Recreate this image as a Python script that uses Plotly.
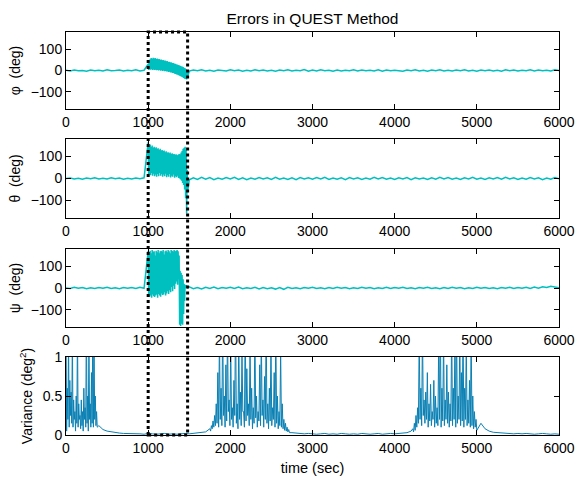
import numpy as np
import plotly.graph_objects as go
from plotly.subplots import make_subplots

# ---------------- data ----------------
# quiet segments (every 50 s)
t_pre = np.arange(0, 1000, 50)          # 0..950
t_post = np.arange(1500, 6001, 50)      # 1500..6000

phi_pre = [1, -2, 2, -1, 0, -3, 2, -1, 1, -2, 3, -1, 0, 2, -2, 1, -1, 3, -2, 1]
phi_post = [-3, 2, -1, 3, -2, 1, -3, 2, 0, -2, 3, -1, 2, -3, 1, -2, 3, -1, 2, -2,
            1, -3, 2, -1, 3, -2, 1, -1, 4, -3, 2, -2, 3, -1, 1, -3, 2, -2, 1, -1,
            3, -2, 2, -1, 1, -2, 3, -3, 2, -1, 1, -2, -4, 2, -1, 3, -2, 1, -3, 2,
            -1, 3, -2, 1, -2, 2, -1, 3, -2, 1, -3, 2, -1, 2, -2, 1, -3, 3, -1, 2,
            -2, 1, -1, 3, -2, 2, -1, 1, -2, 3, 0]
phi_burst_hi = [30, 45, 52, 58, 55, 60, 56, 58, 54, 56, 52, 54, 50, 51, 48, 49, 46, 46, 43, 44,
                41, 41, 38, 38, 35, 35, 32, 31, 29, 28, 26, 24, 22, 20, 18, 16, 13, 10, 6, 2]
phi_burst_lo = [2, 5, 4, 6, 3, 5, 2, 4, 1, 3, 0, 2, -1, 1, -2, 0, -3, -2, -5, -4,
                -7, -6, -9, -9, -12, -12, -15, -16, -18, -20, -22, -24, -27, -29, -32, -35, -38, -40, -42, -30]

theta_pre = [0, 2, -2, 1, -3, 2, -1, 3, -2, 1, -2, 3, -1, 2, -3, 1, -2, 2, -1, 3]
theta_post = [-6, 3, -4, 5, -3, 4, -5, 2, -3, 4, -2, 5, -4, 3, -5, 2, -3, 4, -2, 3,
              -4, 5, -3, 2, -4, 3, -5, 4, -2, 3, -3, 4, -2, 5, -4, 2, -3, 3, -5, 4,
              -2, 3, -4, 2, -3, 5, -2, 4, -3, 2, -4, 3, -2, 4, -5, 3, -2, 2, -4, 3,
              -3, 5, -2, 4, -3, 2, -4, 3, -2, 5, -3, 2, -4, 3, -2, 4, -3, 5, -2, 3,
              -4, 2, -3, 4, -2, 3, -5, 2, -3, 4, -1]
theta_burst_hi = [165, 150, 155, 145, 150, 140, 145, 138, 142, 135, 138, 130, 135, 128, 130, 125, 128, 120, 124, 118,
                  120, 115, 118, 112, 115, 110, 112, 108, 110, 106, 108, 112, 110, 118, 125, 135, 140, 145, 130, 40]
theta_burst_lo = [10, 20, 15, 25, 12, 22, 10, 18, 8, 20, 10, 25, 12, 20, 8, 18, 10, 22, 6, 15,
                  8, 20, 5, 12, 8, 18, 4, 10, 6, 12, 2, 0, -5, -10, -20, -30, -50, -90, -160, -60]

psi_pre = [0, -2, 3, -1, 2, -3, 1, -2, 2, -1, 3, -2, 1, -3, 2, -1, 2, -2, 3, -1]
psi_post = [5, -3, 2, -4, 3, -2, 4, -3, 2, -1, 3, -2, 4, -3, 1, -2, 3, -4, 2, -3,
            1, -5, 2, -6, 3, -2, 1, -3, 2, -1, 3, -2, 1, -3, 2, -2, 3, -1, 2, -3,
            1, -2, 3, -1, 2, -3, 1, -2, 3, -2, 2, -1, 3, -2, 1, -3, 2, -1, 3, -2,
            1, -3, 2, -2, 3, -1, 2, -3, 1, -2, 3, -1, 2, -2, 1, -3, 2, -1, 3, -2,
            2, -1, 3, -2, 4, -1, 6, 2, 8, 3, 1]
psi_burst_hi = [170, 165, 172, 160, 175, 168, 170, 150, 172, 165, 175, 160, 170, 172, 168, 175, 155, 170, 173, 165,
                175, 170, 160, 175, 172, 168, 175, 170, 172, 175, 170, 150, 80, 70, 60, 40, 20, 15, 10, 5]
psi_burst_lo = [-30, -40, -35, -45, -30, -38, -42, -35, -30, -45, -28, -35, -40, -25, -32, -30, -20, -35, -25, -15,
                -28, -10, -20, 5, -15, 10, -5, 20, 30, 15, 40, -170, -175, -165, -170, -120, -60, 0, 10, 0]

burst_start, burst_end = 1000, 1480

# variance
var_b1_hi = [1.5, 0.6, 1.2, 0.7, 0.55, 1.3, 0.45, 0.3, 0.5, 1.4, 0.4, 0.25, 0.45, 0.3, 0.6, 0.35, 1.6, 0.5, 1.2, 0.4,
             0.8, 1.5, 1.3, 0.5, 0.3]
var_b1_lo = [0.05, 0.2, 0.1, 0.25, 0.15, 0.1, 0.2, 0.05, 0.15, 0.1, 0.2, 0.08, 0.12, 0.05, 0.2, 0.1, 0.15, 0.05, 0.2, 0.1,
             0.15, 0.1, 0.2, 0.12, 0.1]
t_var_q1 = np.arange(400, 1750, 50)
var_q1 = [0.12, 0.07, 0.05, 0.04, 0.03, 0.025, 0.02, 0.02, 0.015, 0.02, 0.015, 0.01, 0.02, 0.015, 0.01, 0.015, 0.02,
          0.01, 0.015, 0.01, 0.015, 0.02, 0.015, 0.02, 0.025, 0.03, 0.04]
var_b2_hi = [0.08, 0.12, 0.18, 0.25, 0.4, 0.8, 1.3, 0.6, 1.5, 0.5, 0.9, 1.4, 0.45, 1.2, 0.35, 0.7, 1.6, 0.4, 1.3, 0.55,
             1.1, 0.3, 1.5, 0.85, 0.4, 1.2, 0.6, 0.35, 1.4, 0.5, 0.3, 0.9, 1.3, 0.45, 0.75, 1.5, 0.4, 0.6, 1.2, 0.35,
             0.8, 1.4, 0.5, 0.3, 1.1, 0.4, 0.2, 0.15, 0.1, 0.07]
var_b2_lo = [0.05, 0.08, 0.1, 0.12, 0.15, 0.1, 0.2, 0.12, 0.25, 0.1, 0.18, 0.3, 0.12, 0.2, 0.1, 0.25, 0.15, 0.08, 0.2, 0.12,
             0.3, 0.1, 0.18, 0.25, 0.12, 0.2, 0.08, 0.15, 0.22, 0.1, 0.18, 0.12, 0.25, 0.1, 0.2, 0.15, 0.08, 0.18, 0.12, 0.2,
             0.1, 0.15, 0.08, 0.12, 0.1, 0.08, 0.06, 0.05, 0.04, 0.03]
t_var_q2 = np.arange(2750, 4201, 50)
var_q2 = [0.03, 0.025, 0.02, 0.015, 0.02, 0.015, 0.01, 0.015, 0.02, 0.01, 0.015, 0.01, 0.02, 0.015, 0.01, 0.015, 0.01,
          0.02, 0.015, 0.01, 0.015, 0.02, 0.01, 0.015, 0.02, 0.015, 0.02, 0.025, 0.03, 0.05]
var_b3_hi = [0.08, 0.15, 0.25, 0.35, 1.3, 0.6, 1.4, 0.45, 0.55, 0.8, 0.4, 0.65, 0.3, 0.7, 0.5, 0.35, 1.2, 1.5, 0.6, 1.3,
             0.45, 0.9, 0.55, 0.4, 1.4, 0.6, 1.2, 1.5, 0.5, 1.3, 0.8, 1.4, 0.6, 1.2, 0.45, 0.7, 1.3, 0.5, 0.3, 0.2]
var_b3_lo = [0.04, 0.06, 0.1, 0.15, 0.2, 0.12, 0.25, 0.15, 0.2, 0.1, 0.18, 0.12, 0.2, 0.1, 0.15, 0.12, 0.2, 0.1, 0.18, 0.12,
             0.2, 0.15, 0.1, 0.18, 0.12, 0.2, 0.1, 0.15, 0.2, 0.12, 0.18, 0.1, 0.2, 0.12, 0.15, 0.1, 0.12, 0.08, 0.1, 0.06]
t_var_q3 = np.arange(5050, 6001, 50)
var_q3 = [0.15, 0.08, 0.05, 0.035, 0.03, 0.025, 0.02, 0.02, 0.015, 0.02, 0.015, 0.02, 0.015, 0.01, 0.015, 0.02, 0.015,
          0.01, 0.015, 0.01]

x_ticks = [0, 1000, 2000, 3000, 4000, 5000, 6000]
angle_ticks = [-100, 0, 100]
var_ticks = [0, 0.5, 1]
y_titles = ["\u03c6  (deg)", "\u03b8  (deg)", "\u03c8  (deg)", "Variance (deg<sup>2</sup>)"]
title = "Errors in QUEST Method"
x_title = "time (sec)"


def interleave(hi, lo, t0, t1):
    n = len(hi)
    t = np.linspace(t0, t1, 2 * n)
    v = np.empty(2 * n)
    v[0::2] = hi
    v[1::2] = lo
    return t, v


def angle_series(pre, hi, lo, post):
    tb, vb = interleave(hi, lo, burst_start, burst_end)
    t = np.concatenate([t_pre, tb, t_post])
    v = np.concatenate([pre, vb, post])
    return t, v


series = [
    angle_series(phi_pre, phi_burst_hi, phi_burst_lo, phi_post),
    angle_series(theta_pre, theta_burst_hi, theta_burst_lo, theta_post),
    angle_series(psi_pre, psi_burst_hi, psi_burst_lo, psi_post),
]

tb1, vb1 = interleave(var_b1_hi, var_b1_lo, 0, 380)
tb2, vb2 = interleave(var_b2_hi, var_b2_lo, 1750, 2720)
tb3, vb3 = interleave(var_b3_hi, var_b3_lo, 4220, 5000)
t_var = np.concatenate([tb1, t_var_q1, tb2, t_var_q2, tb3, t_var_q3])
v_var = np.concatenate([vb1, var_q1, vb2, var_q2, vb3, var_q3])

# ---------------- figure ----------------
CYAN = "rgb(0,191,191)"
BLUE = "rgb(10,128,180)"
FONT = "Liberation Sans, Arial, sans-serif"

fig = make_subplots(rows=4, cols=1)
for i, (t, v) in enumerate(series):
    fig.add_trace(go.Scatter(x=t, y=v, mode="lines", line=dict(color=CYAN, width=1.5),
                             showlegend=False, hoverinfo="skip"), row=i + 1, col=1)
fig.add_trace(go.Scatter(x=t_var, y=v_var, mode="lines", line=dict(color=BLUE, width=1),
                         showlegend=False, hoverinfo="skip"), row=4, col=1)

domains = [[0.809, 1.0], [0.5385, 0.7345], [0.268, 0.4615], [0.0, 0.1935]]
axis_common = dict(showline=True, linecolor="black", linewidth=1, mirror="allticks",
                   ticks="inside", ticklen=5, tickcolor="black", showgrid=False, zeroline=False,
                   automargin=False,
                   tickfont=dict(family=FONT, size=14, color="black"))
for i in range(4):
    xa = "xaxis" if i == 0 else f"xaxis{i + 1}"
    ya = "yaxis" if i == 0 else f"yaxis{i + 1}"
    fig.layout[xa].update(range=[0, 6000], tickvals=x_ticks, domain=[0, 1], **axis_common)
    if i < 3:
        fig.layout[ya].update(range=[-180, 180], tickvals=angle_ticks, domain=domains[i],
                              title=dict(text=y_titles[i], font=dict(family=FONT, size=14, color="black"),
                                         standoff=6),
                              **axis_common)
    else:
        fig.layout[ya].update(range=[0, 1], tickvals=var_ticks, ticktext=["0", "0.5", "1"], domain=domains[i],
                              title=dict(text=y_titles[i], font=dict(family=FONT, size=14, color="black"),
                                         standoff=6),
                              **axis_common)
fig.layout.xaxis4.title = dict(text=x_title, font=dict(family=FONT, size=14.5, color="black"), standoff=8)

fig.add_shape(type="rect", xref="x", yref="paper", x0=burst_start, x1=burst_end, y0=0, y1=1,
              line=dict(color="black", width=3, dash="3px,3px"), layer="above")

fig.update_layout(
    width=575, height=478,
    margin=dict(l=66, r=16, t=32, b=43, autoexpand=False),
    paper_bgcolor="white", plot_bgcolor="white",
    title=dict(text=title, x=0.5, xref="paper", y=0.972, yanchor="top",
               font=dict(family=FONT, size=15.5, color="black")),
    font=dict(family=FONT, color="black"),
)

fig.write_html("out.html")
